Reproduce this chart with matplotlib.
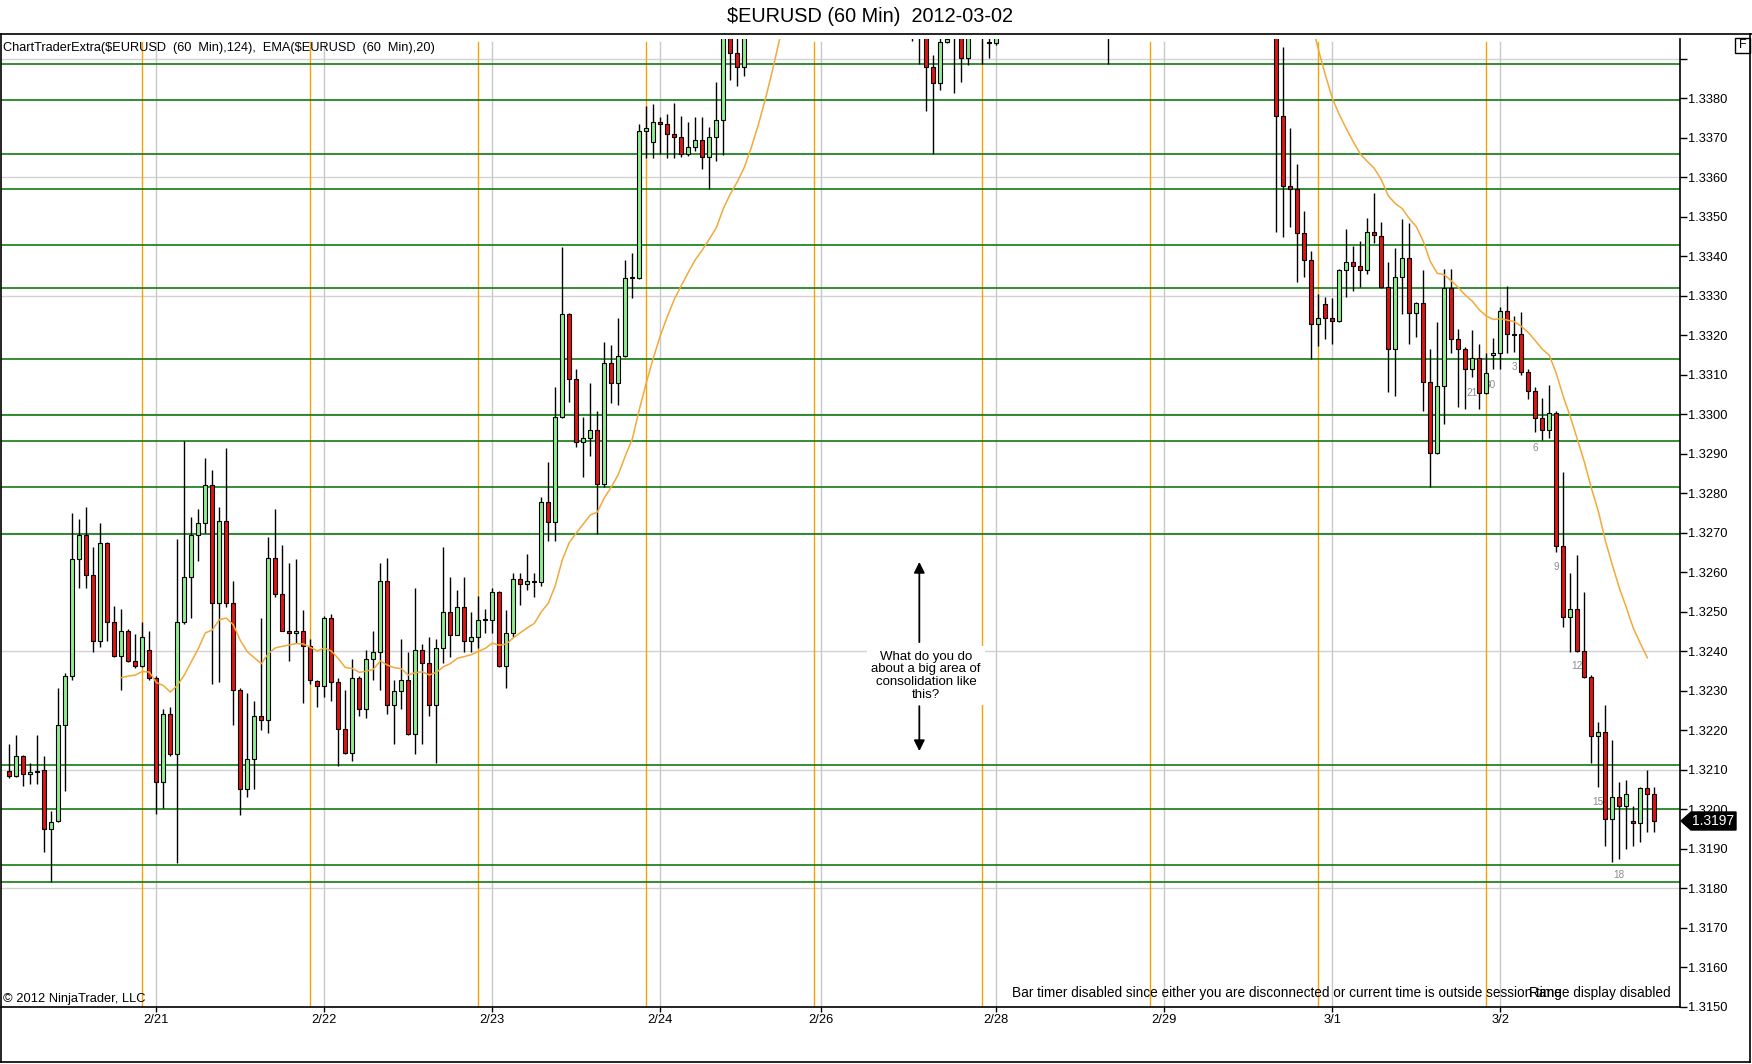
import numpy as np
import matplotlib.pyplot as plt
from matplotlib.patches import Rectangle, Polygon
from matplotlib.lines import Line2D

plt.rcParams['font.family'] = ['Liberation Sans', 'DejaVu Sans']

# hourly bars, $EURUSD 60 min (prices above 1.3395 are off the chart top)
opens = [
    1.32097, 1.32084, 1.32134, 1.32089, 1.32093, 1.32099, 1.31950, 1.31970, 1.32212, 1.32338,
    1.32633, 1.32694, 1.32594, 1.32427, 1.32673, 1.32473, 1.32389, 1.32452, 1.32375, 1.32363,
    1.32402, 1.32333, 1.32068, 1.32242, 1.32139, 1.32473, 1.32589, 1.32694, 1.32724, 1.32822,
    1.32523, 1.32729, 1.32523, 1.32303, 1.32052, 1.32128, 1.32237, 1.32227, 1.32637, 1.32544,
    1.32452, 1.32447, 1.32452, 1.32412, 1.32324, 1.32312, 1.32483, 1.32323, 1.32202, 1.32143,
    1.32333, 1.32253, 1.32379, 1.32397, 1.32579, 1.32263, 1.32298, 1.32328, 1.32190, 1.32402,
    1.32369, 1.32263, 1.32407, 1.32498, 1.32442, 1.32513, 1.32427, 1.32437, 1.32478, 1.32478,
    1.32549, 1.32363, 1.32447, 1.32584, 1.32569, 1.32578, 1.32574, 1.32779, 1.32728, 1.32992,
    1.33254, 1.33088, 1.32929, 1.32939, 1.32960, 1.32823, 1.33129, 1.33078, 1.33148, 1.33344,
    1.33344, 1.33718, 1.33688, 1.33739, 1.33734, 1.33709, 1.33703, 1.33658, 1.33677, 1.33694,
    1.33652, 1.33703, 1.33745, 1.33980, 1.33914, 1.33878, 1.33975, 1.34150, 1.34280, 1.34410,
    1.34550, 1.34680, 1.34780, 1.34640, 1.34550, 1.34420, 1.34360, 1.34300, 1.34220, 1.34150,
    1.34110, 1.34130, 1.34170, 1.34120, 1.34060, 1.34100, 1.34070, 1.34040, 1.34020, 1.34000,
    1.34030, 1.33990, 1.33878, 1.33838, 1.33943, 1.34010, 1.34000, 1.33903, 1.33990, 1.34030,
    1.33943, 1.33939, 1.33980, 1.34050, 1.34100, 1.34180, 1.34140, 1.34090, 1.34120, 1.34250,
    1.34360, 1.34310, 1.34430, 1.34520, 1.34460, 1.34340, 1.34220, 1.34110, 1.34030, 1.34170,
    1.34280, 1.34360, 1.34410, 1.34480, 1.34440, 1.34460, 1.34510, 1.34560, 1.34520, 1.34470,
    1.34500, 1.34440, 1.34480, 1.34550, 1.34600, 1.34540, 1.34480, 1.34420, 1.34460, 1.34400,
    1.34430, 1.34360, 1.33755, 1.33579, 1.33569, 1.33458, 1.33390, 1.33228, 1.33278, 1.33243,
    1.33237, 1.33365, 1.33385, 1.33374, 1.33365, 1.33462, 1.33452, 1.33323, 1.33164, 1.33348,
    1.33396, 1.33257, 1.33282, 1.33082, 1.32903, 1.33072, 1.33320, 1.33190, 1.33164, 1.33114,
    1.33143, 1.33053, 1.33150, 1.33154, 1.33262, 1.33202, 1.33202, 1.33108, 1.33059, 1.32990,
    1.32960, 1.33002, 1.32666, 1.32487, 1.32508, 1.32401, 1.32334, 1.32185, 1.32195, 1.31974,
    1.32032, 1.32008, 1.31971, 1.31964, 1.32053, 1.32038,
]
highs = [
    1.32165, 1.32189, 1.32136, 1.32118, 1.32189, 1.32134, 1.31995, 1.32308, 1.32344, 1.32750,
    1.32734, 1.32764, 1.32664, 1.32724, 1.32676, 1.32514, 1.32508, 1.32455, 1.32443, 1.32474,
    1.32452, 1.32336, 1.32253, 1.32259, 1.32684, 1.32932, 1.32740, 1.32759, 1.32889, 1.32858,
    1.32765, 1.32915, 1.32579, 1.32306, 1.32293, 1.32273, 1.32484, 1.32688, 1.32759, 1.32668,
    1.32623, 1.32633, 1.32504, 1.32432, 1.32326, 1.32489, 1.32494, 1.32333, 1.32303, 1.32379,
    1.32338, 1.32402, 1.32452, 1.32623, 1.32637, 1.32328, 1.32432, 1.32397, 1.32560, 1.32417,
    1.32437, 1.32432, 1.32663, 1.32587, 1.32555, 1.32587, 1.32498, 1.32541, 1.32508, 1.32559,
    1.32552, 1.32504, 1.32597, 1.32597, 1.32647, 1.32597, 1.32791, 1.32879, 1.33070, 1.33424,
    1.33257, 1.33114, 1.32994, 1.33080, 1.33008, 1.33184, 1.33175, 1.33243, 1.33390, 1.33407,
    1.33734, 1.33780, 1.33785, 1.33752, 1.33759, 1.33788, 1.33755, 1.33739, 1.33753, 1.33753,
    1.33728, 1.33842, 1.34000, 1.34010, 1.33960, 1.33990, 1.34180, 1.34320, 1.34470, 1.34620,
    1.34740, 1.34860, 1.34820, 1.34710, 1.34630, 1.34480, 1.34410, 1.34360, 1.34280, 1.34200,
    1.34180, 1.34210, 1.34220, 1.34160, 1.34140, 1.34150, 1.34110, 1.34100, 1.34080, 1.34060,
    1.34090, 1.34040, 1.33909, 1.33990, 1.33980, 1.34060, 1.34040, 1.34050, 1.34070, 1.34080,
    1.33970, 1.34020, 1.34080, 1.34130, 1.34210, 1.34250, 1.34200, 1.34160, 1.34280, 1.34390,
    1.34440, 1.34470, 1.34580, 1.34600, 1.34530, 1.34400, 1.34280, 1.34160, 1.34200, 1.34310,
    1.34400, 1.34460, 1.34520, 1.34550, 1.34500, 1.34550, 1.34600, 1.34640, 1.34580, 1.34550,
    1.34570, 1.34520, 1.34590, 1.34660, 1.34680, 1.34600, 1.34550, 1.34500, 1.34530, 1.34470,
    1.34490, 1.34420, 1.33930, 1.33724, 1.33633, 1.33514, 1.33414, 1.33304, 1.33298, 1.33295,
    1.33368, 1.33468, 1.33426, 1.33439, 1.33498, 1.33559, 1.33487, 1.33385, 1.33422, 1.33493,
    1.33483, 1.33285, 1.33365, 1.33164, 1.33233, 1.33368, 1.33368, 1.33217, 1.33169, 1.33213,
    1.33179, 1.33156, 1.33192, 1.33271, 1.33325, 1.33249, 1.33258, 1.33114, 1.33070, 1.33042,
    1.33074, 1.33007, 1.32853, 1.32597, 1.32643, 1.32549, 1.32339, 1.32222, 1.32264, 1.32175,
    1.32070, 1.32074, 1.32008, 1.32056, 1.32099, 1.32057,
]
lows = [
    1.32078, 1.32082, 1.32058, 1.32065, 1.32063, 1.31892, 1.31816, 1.31968, 1.32047, 1.32328,
    1.32559, 1.32559, 1.32397, 1.32411, 1.32426, 1.32386, 1.32303, 1.32372, 1.32358, 1.32360,
    1.32327, 1.31989, 1.32002, 1.32134, 1.31863, 1.32470, 1.32483, 1.32628, 1.32699, 1.32318,
    1.32323, 1.32513, 1.32212, 1.31985, 1.32031, 1.32052, 1.32200, 1.32194, 1.32538, 1.32450,
    1.32374, 1.32420, 1.32268, 1.32317, 1.32258, 1.32283, 1.32273, 1.32109, 1.32139, 1.32123,
    1.32237, 1.32232, 1.32328, 1.32303, 1.32242, 1.32164, 1.32253, 1.32187, 1.32139, 1.32164,
    1.32237, 1.32117, 1.32371, 1.32386, 1.32440, 1.32397, 1.32397, 1.32407, 1.32447, 1.32447,
    1.32360, 1.32308, 1.32436, 1.32518, 1.32555, 1.32538, 1.32565, 1.32678, 1.32678, 1.32990,
    1.33032, 1.32918, 1.32842, 1.32893, 1.32696, 1.32816, 1.33028, 1.33023, 1.33146, 1.33293,
    1.33342, 1.33648, 1.33648, 1.33660, 1.33648, 1.33648, 1.33652, 1.33655, 1.33667, 1.33622,
    1.33569, 1.33642, 1.33656, 1.33846, 1.33832, 1.33857, 1.33965, 1.34100, 1.34220, 1.34360,
    1.34480, 1.34600, 1.34580, 1.34490, 1.34440, 1.34300, 1.34240, 1.34180, 1.34100, 1.34050,
    1.34040, 1.34080, 1.34090, 1.34020, 1.34010, 1.34030, 1.33990, 1.33980, 1.33970, 1.33945,
    1.33886, 1.33768, 1.33660, 1.33821, 1.33939, 1.33812, 1.33842, 1.33884, 1.33960, 1.33886,
    1.33903, 1.33935, 1.33960, 1.34010, 1.34060, 1.34110, 1.34050, 1.34000, 1.34100, 1.34200,
    1.34270, 1.34280, 1.34380, 1.34410, 1.34300, 1.34180, 1.34050, 1.33887, 1.33990, 1.34120,
    1.34220, 1.34300, 1.34360, 1.34400, 1.34370, 1.34400, 1.34450, 1.34480, 1.34410, 1.34390,
    1.34420, 1.34370, 1.34440, 1.34500, 1.34510, 1.34430, 1.34380, 1.34350, 1.34370, 1.34320,
    1.34300, 1.33462, 1.33448, 1.33473, 1.33334, 1.33348, 1.33141, 1.33173, 1.33190, 1.33179,
    1.33234, 1.33298, 1.33313, 1.33323, 1.33354, 1.33433, 1.33319, 1.33057, 1.33047, 1.33253,
    1.33178, 1.33196, 1.33008, 1.32815, 1.32900, 1.32974, 1.33154, 1.33017, 1.33012, 1.33093,
    1.33012, 1.33050, 1.33114, 1.33114, 1.33154, 1.33158, 1.33099, 1.33038, 1.32956, 1.32935,
    1.32939, 1.32652, 1.32462, 1.32397, 1.32399, 1.32331, 1.32116, 1.32057, 1.31907, 1.31867,
    1.31873, 1.31898, 1.31907, 1.31918, 1.31943, 1.31943,
]
closes = [
    1.32084, 1.32134, 1.32089, 1.32094, 1.32097, 1.31950, 1.31968, 1.32212, 1.32338, 1.32633,
    1.32694, 1.32594, 1.32427, 1.32673, 1.32473, 1.32389, 1.32452, 1.32375, 1.32363, 1.32437,
    1.32333, 1.32068, 1.32242, 1.32139, 1.32473, 1.32589, 1.32694, 1.32724, 1.32822, 1.32523,
    1.32729, 1.32523, 1.32303, 1.32052, 1.32128, 1.32237, 1.32227, 1.32637, 1.32544, 1.32452,
    1.32447, 1.32452, 1.32412, 1.32328, 1.32312, 1.32483, 1.32323, 1.32202, 1.32143, 1.32333,
    1.32253, 1.32379, 1.32397, 1.32579, 1.32263, 1.32298, 1.32328, 1.32190, 1.32402, 1.32369,
    1.32263, 1.32407, 1.32498, 1.32442, 1.32513, 1.32427, 1.32437, 1.32478, 1.32479, 1.32549,
    1.32363, 1.32447, 1.32584, 1.32569, 1.32579, 1.32574, 1.32779, 1.32728, 1.32992, 1.33254,
    1.33088, 1.32929, 1.32939, 1.32960, 1.32823, 1.33129, 1.33078, 1.33148, 1.33344, 1.33345,
    1.33718, 1.33724, 1.33739, 1.33734, 1.33709, 1.33703, 1.33658, 1.33677, 1.33694, 1.33652,
    1.33703, 1.33745, 1.33980, 1.33914, 1.33878, 1.33975, 1.34150, 1.34280, 1.34410, 1.34550,
    1.34680, 1.34780, 1.34640, 1.34550, 1.34500, 1.34360, 1.34300, 1.34220, 1.34150, 1.34110,
    1.34130, 1.34170, 1.34120, 1.34060, 1.34100, 1.34070, 1.34040, 1.34020, 1.34000, 1.34030,
    1.33990, 1.33878, 1.33838, 1.33943, 1.33949, 1.33990, 1.33903, 1.33990, 1.34030, 1.34000,
    1.33939, 1.33980, 1.34050, 1.34100, 1.34180, 1.34140, 1.34090, 1.34120, 1.34250, 1.34360,
    1.34310, 1.34430, 1.34520, 1.34460, 1.34340, 1.34220, 1.34110, 1.34030, 1.34170, 1.34280,
    1.34360, 1.34410, 1.34480, 1.34440, 1.34460, 1.34510, 1.34560, 1.34520, 1.34470, 1.34500,
    1.34440, 1.34480, 1.34550, 1.34600, 1.34540, 1.34480, 1.34420, 1.34460, 1.34400, 1.34430,
    1.34360, 1.33755, 1.33579, 1.33569, 1.33458, 1.33390, 1.33228, 1.33243, 1.33243, 1.33237,
    1.33365, 1.33385, 1.33374, 1.33365, 1.33462, 1.33454, 1.33323, 1.33164, 1.33348, 1.33396,
    1.33257, 1.33282, 1.33082, 1.32903, 1.33072, 1.33320, 1.33190, 1.33164, 1.33114, 1.33143,
    1.33053, 1.33104, 1.33154, 1.33262, 1.33202, 1.33200, 1.33108, 1.33059, 1.32990, 1.32960,
    1.33002, 1.32666, 1.32487, 1.32508, 1.32401, 1.32334, 1.32185, 1.32195, 1.31974, 1.32032,
    1.32008, 1.32038, 1.31964, 1.32053, 1.32039, 1.31970,
]

ema_period = 20
ema_first_bar = 16
ema_first_value = 1.32333

green_levels = [1.33887, 1.33795, 1.33660, 1.33570, 1.33428, 1.33320, 1.33141, 1.32998,
                1.32932, 1.32815, 1.32696, 1.32113, 1.32000, 1.31858, 1.31815]
grid_prices = [1.3180, 1.3210, 1.3240, 1.3270, 1.3300, 1.3330, 1.3360, 1.3390]
day_bars = [21, 45, 69, 93, 116, 141, 165, 189, 213]
day_labels = ['2/21', '2/22', '2/23', '2/24', '2/26', '2/28', '2/29', '3/1', '3/2']
session_bars = [19, 43, 67, 91, 115, 139, 163, 187, 211]

counter_labels = ['21', '30', '3', '6', '9', '12', '15', '18']
counter_x = [208.9, 211.6, 215.0, 218.0, 221.0, 223.9, 226.9, 230.0]
counter_y = [1.33053, 1.33074, 1.33119, 1.32914, 1.32612, 1.32363, 1.32017, 1.31833]

W, H = 1752, 1064
fig = plt.figure(figsize=(W / 100, H / 100), dpi=100)
fig.patch.set_facecolor('white')


def fx(px):
    return px / W


def fy(py):
    return 1 - py / H


ax = fig.add_axes([fx(1), fy(1007), fx(1680) - fx(1), fy(39.3) - fy(1007)])
ax.set_xlim(-1.19, 238.67)
ax.set_ylim(1.314992, 1.339492)

# grid + drawn lines
for p in grid_prices:
    ax.axhline(p, color='#d2d2d2', lw=1, zorder=1)
for b in day_bars:
    ax.axvline(b, ymax=0.997, color='#c8c8c8', lw=1, zorder=1)
for b in session_bars:
    ax.axvline(b, ymax=0.997, color='#f5a300', lw=1, zorder=1.2)
for lv in green_levels:
    ax.axhline(lv, color='#107a10', lw=1.2, zorder=1.5)

# bar counters
for t, cx, cy in zip(counter_labels, counter_x, counter_y):
    ax.text(cx, cy, t, color='#8c8c8c', fontsize=7.2, ha='center', va='center', zorder=2)

# candles
o = np.array(opens)
h = np.array(highs)
l = np.array(lows)
c = np.array(closes)
x = np.arange(len(c))
up = c >= o
body_lo = np.minimum(o, c)
body_h = np.maximum(np.abs(c - o), 0.00003)
ax.vlines(x, l, h, color='black', lw=1, zorder=3)
ax.bar(x[up], body_h[up], bottom=body_lo[up], width=0.6, color='#90ee90',
       edgecolor='black', linewidth=0.8, zorder=4)
ax.bar(x[~up], body_h[~up], bottom=body_lo[~up], width=0.6, color='#e01414',
       edgecolor='black', linewidth=0.8, zorder=4)

# EMA(20) of the closes, plotted on closed bars
alpha = 2 / (ema_period + 1)
ema = np.full(len(c), np.nan)
ema[ema_first_bar] = ema_first_value
for i in range(ema_first_bar + 1, len(c) - 1):
    ema[i] = ema[i - 1] + alpha * (c[i] - ema[i - 1])
ax.plot(x, ema, color='#f2a93b', lw=1.1, zorder=5)

# note
ax.text(130.96, 1.32338, "What do you do\nabout a big area of\nconsolidation like\nthis?",
        ha='center', va='center', fontsize=9.5, linespacing=1.08,
        bbox=dict(facecolor='white', edgecolor='none', pad=3), zorder=6)
ax.annotate('', xy=(130, 1.32626), xytext=(130, 1.32423),
            arrowprops=dict(arrowstyle='-|>', color='black', lw=1.3, mutation_scale=16,
                            shrinkA=0, shrinkB=0), zorder=6)
ax.annotate('', xy=(130, 1.32147), xytext=(130, 1.32261),
            arrowprops=dict(arrowstyle='-|>', color='black', lw=1.3, mutation_scale=16,
                            shrinkA=0, shrinkB=0), zorder=6)

# axes look
for s in ['top', 'left']:
    ax.spines[s].set_visible(False)
for s in ['right', 'bottom']:
    ax.spines[s].set_linewidth(1.2)
ax.yaxis.tick_right()
yt = np.round(np.arange(1.3150, 1.33905, 0.001), 4)
ax.set_yticks(yt)
ax.set_yticklabels(['' if t > 1.3385 else f"{t:.4f}" for t in yt])
ax.tick_params(axis='y', direction='out', length=5, width=1, pad=1, labelsize=9.3)
ax.set_xticks(day_bars)
ax.set_xticklabels(day_labels)
ax.tick_params(axis='x', direction='out', length=3.6, width=1, pad=1.5, labelsize=9.3)

# outer frame
fig.add_artist(Line2D([0, 1], [fy(34), fy(34)], color='black', lw=1.2, transform=fig.transFigure))
fig.add_artist(Line2D([fx(0.6), fx(0.6)], [fy(34), fy(1062)], color='black', lw=1.2, transform=fig.transFigure))
fig.add_artist(Line2D([fx(1750), fx(1750)], [fy(34), fy(1062)], color='black', lw=1.2, transform=fig.transFigure))
fig.add_artist(Line2D([0, fx(1750)], [fy(1062), fy(1062)], color='black', lw=1.2, transform=fig.transFigure))

fig.text(fx(870), fy(16), "$EURUSD (60 Min)  2012-03-02", ha='center', va='center',
         fontsize=14.3, parse_math=False)
fig.text(fx(3), fy(47.5), "ChartTraderExtra($EURUSD  (60  Min),124),  EMA($EURUSD  (60  Min),20)",
         ha='left', va='center', fontsize=9.2, parse_math=False)
fig.text(fx(3), fy(999), "\u00a9 2012 NinjaTrader, LLC", ha='left', va='center', fontsize=9.3)
fig.text(fx(1012), fy(993), "Bar timer disabled since either you are disconnected or current time is outside session time",
         ha='left', va='center', fontsize=9.8)
fig.text(fx(1671), fy(993), "Range display disabled", ha='right', va='center', fontsize=9.8)

# last price marker
fig.add_artist(Polygon([[fx(1681), fy(821)], [fx(1691), fy(812)], [fx(1736), fy(812)],
                        [fx(1736), fy(830)], [fx(1691), fy(830)]], closed=True,
                       facecolor='black', edgecolor='black', transform=fig.transFigure))
fig.text(fx(1713), fy(821), f"{closes[-1]:.4f}", color='white', ha='center', va='center',
         fontsize=10, zorder=10)

# F box
fig.add_artist(Rectangle((fx(1735), fy(53)), fx(15), 15 / H, facecolor='white',
                         edgecolor='black', lw=1, transform=fig.transFigure))
fig.text(fx(1742.5), fy(45.5), "F", ha='center', va='center', fontsize=9, zorder=10)

fig.savefig('out.png', dpi=100, facecolor='white')
